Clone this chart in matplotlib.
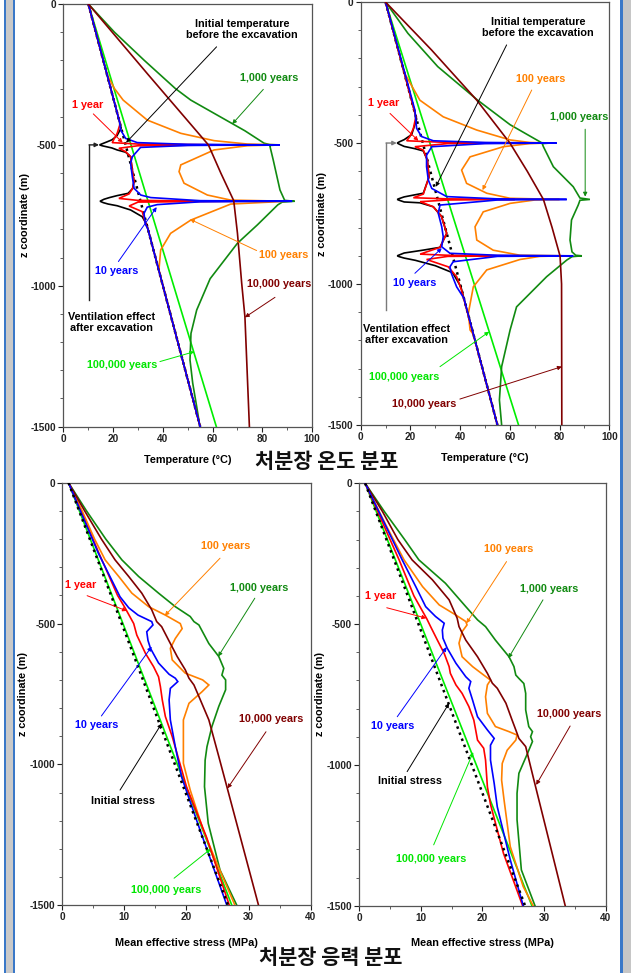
import numpy as np
import matplotlib
matplotlib.use("Agg")
import matplotlib.pyplot as plt
from matplotlib import font_manager
from matplotlib.patches import Rectangle

# ---------- temperature, two disposal levels (-500, -700 m): (T degC, z m) ----------
t2_initial = [(10, 0), (55, -1500)]
t2_vent = [(10, 0), (23.2, -440), (21.5, -468), (19.5, -482), (17.6, -489), (15.6, -496), (14.5, -500),
           (15.5, -503), (17, -506), (19.5, -511), (21.6, -518), (25, -526), (27, -542), (27.6, -585),
           (28.4, -630), (27.8, -655), (26, -672), (21.6, -680), (18.5, -687), (16.3, -693), (14.7, -700),
           (16, -705), (18, -710), (21.6, -716), (27, -731), (31.7, -755), (33.6, -785), (55, -1500)]
t2_1yr = [(10, 0), (22.8, -425), (21.6, -459), (20.3, -480), (19.6, -492), (30, -497), (65, -500), (30, -503),
          (22.3, -512), (25, -524), (27, -542), (27.6, -585), (28.4, -630), (27.8, -655), (26.4, -674),
          (22.3, -690), (30, -697), (70, -700), (30, -703), (26.4, -717), (31.7, -737), (32.6, -767),
          (34, -800), (55, -1500)]
t2_10yr = [(10, 0), (21.3, -376), (22.6, -420), (23, -447), (25, -477), (29.7, -492), (50, -498), (87, -500),
           (50, -502), (31, -509), (27.7, -542), (27, -565), (27.7, -613), (28.4, -654), (31.1, -678),
           (35.1, -687), (55, -698), (92, -700), (55, -702), (37.7, -712), (33.7, -721), (32.4, -743),
           (32.9, -779), (34, -800), (55, -1500)]
t2_100yr = [(10, 0), (17.5, -250), (20.5, -300), (24, -341), (33.7, -412), (47.2, -459), (60.6, -485),
            (74, -497), (86, -500), (74, -503), (60.6, -518), (47.2, -571), (46.5, -595), (48.5, -636),
            (57.9, -678), (67.3, -696), (90, -700), (67.3, -710), (51.2, -767), (43.1, -814), (39.1, -873),
            (38.4, -944), (39.5, -985), (40.6, -1020), (55, -1500)]
t2_1000yr = [(10, 0), (20.5, -100), (32.5, -200), (45, -300), (51.2, -341), (63, -400), (73, -450),
             (80.7, -494), (83, -499), (87, -500), (83, -502), (83.1, -506), (84.4, -554), (87.1, -660),
             (89, -697), (93, -700), (88, -703), (86.2, -713), (78, -784), (70, -849), (59, -975),
             (53.6, -1086), (51.3, -1169), (50.9, -1263), (52, -1346), (53.6, -1429), (54.9, -1500)]
t2_10000yr = [(10, 0), (34, -250), (58.3, -500), (63.3, -600), (68.5, -698), (70, -814), (71.7, -991),
              (73, -1110), (74.8, -1500)]
t2_100000yr = [(10, 0), (61.5, -1500)]

# ---------- temperature, three disposal levels (-500, -700, -900 m) ----------
t3_initial = [(10, 0), (55, -1500)]
t3_vent = [(10, 0), (22.5, -415), (20.5, -470), (17.5, -488), (15.5, -496), (14.7, -500), (15.5, -504),
           (17.5, -512), (21.8, -520), (25.2, -528), (26.8, -560), (27.5, -620), (25.2, -678), (21, -685),
           (17.5, -691), (15.5, -697), (14.7, -700), (15.5, -703), (17.5, -709), (23.9, -712), (29.2, -726),
           (32.5, -760), (34.6, -820), (31.9, -870), (25, -880), (17.5, -890), (15.5, -897), (14.7, -900),
           (15.5, -903), (17.5, -908), (22, -916), (30, -935), (37, -960), (40.3, -1010), (55, -1500)]
t3_1yr = [(10, 0), (22.2, -407), (21.2, -448), (19.8, -477), (18.5, -492), (35, -498), (60, -500), (35, -502),
          (21.8, -513), (25.2, -525), (26.8, -560), (27.5, -620), (25.2, -681), (21.2, -694), (35, -698),
          (62, -700), (35, -702), (23.9, -708), (29.2, -726), (32.5, -760), (34.6, -820), (31.9, -870),
          (23.9, -894), (35, -898), (65, -900), (35, -902), (26.5, -913), (35.2, -939), (38.6, -974),
          (40.5, -1020), (55, -1500)]
t3_10yr = [(10, 0), (21.8, -383), (22.5, -448), (24.5, -477), (29.2, -492), (50, -498), (78.8, -500),
           (50, -502), (28.6, -513), (26.5, -543), (26.5, -584), (27.2, -631), (28.6, -661), (34.6, -690),
           (55, -698), (82.9, -700), (55, -702), (31.9, -720), (31.2, -749), (32.6, -797), (33.2, -832),
           (32.6, -868), (35.9, -891), (55, -898), (85.5, -900), (55, -902), (37.2, -921), (35.9, -939),
           (36.5, -963), (38.6, -1010), (41.5, -1050), (55, -1500)]
t3_100yr = [(10, 0), (17.5, -250), (23.8, -348), (33.2, -407), (46.7, -454), (60.1, -489), (68, -498),
            (75, -500), (68, -502), (57.4, -513), (44, -549), (40.6, -596), (42.6, -643), (50.7, -678),
            (60.1, -696), (80, -700), (70, -702), (60.1, -714), (49.3, -744), (46, -797), (46.7, -844),
            (53.3, -880), (64.1, -898), (82, -900), (72, -902), (64.1, -913), (50.7, -950), (45.3, -1010),
            (43.3, -1104), (44, -1163), (45.4, -1180), (55, -1500)]
t3_1000yr = [(10, 0), (19, -111), (31, -229), (46.9, -347), (60.1, -435), (70, -485), (72.8, -499),
             (76.5, -500), (73, -502), (73.5, -513), (77.5, -584), (85.5, -655), (88.2, -695), (92.2, -700),
             (88.2, -703), (87.5, -720), (84.8, -773), (84.2, -844), (85, -886), (86.5, -898), (89, -900),
             (85, -903), (82.9, -915), (74.8, -974), (62.7, -1081), (60.1, -1163), (56.7, -1293),
             (55.8, -1411), (56.7, -1500)]
t3_10000yr = [(10, 0), (28.5, -170), (46.7, -348), (60.1, -501), (67, -600), (73.5, -700), (77, -800),
              (80.2, -901), (80.8, -1000), (80.9, -1500)]
t3_100000yr = [(10, 0), (63.5, -1500)]

# ---------- mean effective stress, two levels: (MPa, z m) ----------
s2_initial = [(1.0, 0), (26.7, -1500)]
s2_1yr = [(1.0, 0), (5.9, -250), (8.9, -400), (10.1, -444), (11.5, -500), (12.0, -541), (13.4, -606),
          (14.7, -653), (15.5, -689), (15.8, -724), (16.1, -771), (16.6, -830), (17.7, -901), (20.0, -1079),
          (23.2, -1257), (26.9, -1500)]
s2_10yr = [(1.0, 0), (5.8, -250), (9.3, -405), (10.7, -444), (12.2, -470), (14.4, -493), (14.6, -505),
           (13.6, -529), (13.8, -560), (14.2, -588), (15.5, -640), (17.2, -680), (18.2, -694), (18.6, -706),
           (17.4, -730), (17.2, -771), (17.4, -842), (18.2, -937), (19.2, -1044), (22.2, -1234), (26.5, -1500)]
s2_100yr = [(1.0, 0), (3.2, -100), (5.2, -200), (6.9, -274), (9.1, -333), (11.2, -392), (13.9, -440),
            (16.6, -470), (19.0, -500), (19.3, -518), (18.2, -553), (17.4, -588), (17.7, -629), (19.8, -676),
            (22.6, -700), (23.6, -718), (22.5, -742), (20.4, -783), (19.5, -842), (19.5, -913), (19.5, -996),
            (20.6, -1091), (22.7, -1233), (24.9, -1351), (27.8, -1500)]
s2_1000yr = [(1.0, 0), (3.9, -100), (7.0, -200), (9.6, -274), (12.3, -333), (15.5, -392), (18.2, -440),
             (20.6, -475), (21.2, -493), (22.0, -505), (23.6, -571), (25.2, -617), (26.0, -659), (25.7, -683),
             (26.3, -700), (26.3, -735), (25.2, -794), (24.1, -865), (23.3, -937), (23.0, -985), (22.9, -1079),
             (23.5, -1209), (25.4, -1375), (28.1, -1500)]
s2_10000yr = [(1.0, 0), (3.6, -100), (6.3, -200), (8.5, -274), (10.7, -333), (12.8, -392), (14.4, -451),
              (15.2, -493), (16.0, -511), (17.1, -558), (18.5, -617), (19.8, -664), (20.4, -694), (21.2, -718),
              (22.0, -759), (23.6, -842), (25.2, -972), (26.5, -1079), (31.6, -1500)]
s2_100000yr = [(1.0, 0), (27.3, -1500)]

# ---------- mean effective stress, three levels ----------
s3_initial = [(1.0, 0), (26.9, -1500)]
s3_1yr = [(1.0, 0), (6.5, -272), (8.9, -400), (11.0, -482), (11.6, -509), (12.7, -557), (13.8, -604),
          (14.6, -651), (14.8, -675), (15.7, -716), (16.7, -746), (17.8, -793), (18.6, -841), (18.9, -876),
          (19.2, -912), (20.2, -941), (20.5, -983), (20.8, -1078), (21.3, -1140), (23.4, -1314), (26.5, -1500)]
s3_10yr = [(1.0, 0), (7.0, -272), (9.2, -367), (10.8, -438), (12.4, -473), (13.8, -497), (13.5, -521),
           (13.6, -550), (14.3, -586), (15.7, -639), (17.3, -687), (18.1, -704), (17.8, -728), (18.4, -770),
           (19.2, -829), (20.8, -876), (21.9, -906), (21.3, -930), (21.3, -983), (21.9, -1066), (22.4, -1149),
           (24.5, -1337), (26.6, -1500)]
s3_100yr = [(1.0, 0), (4.4, -150), (7.3, -272), (10.3, -367), (13.0, -432), (15.7, -468), (17.3, -491),
            (17.5, -503), (16.7, -527), (16.2, -568), (16.7, -616), (18.4, -651), (20.2, -681), (21.3, -699),
            (20.8, -716), (20.5, -758), (20.8, -817), (22.1, -864), (24.3, -882), (25.6, -894), (25.4, -912),
            (24.0, -948), (23.2, -995), (23.1, -1054), (23.5, -1125), (24.5, -1290), (26.6, -1432), (28.2, -1500)]
s3_1000yr = [(1.0, 0), (4.1, -100), (7.4, -200), (9.7, -272), (14.0, -355), (17.3, -438), (19.2, -485),
             (20.5, -509), (22.1, -557), (24.3, -616), (25.1, -651), (25.4, -681), (25.9, -693), (26.7, -711),
             (27.0, -746), (27.0, -805), (27.5, -864), (28.1, -882), (27.8, -900), (28.1, -917), (27.3, -959),
             (25.9, -1030), (25.6, -1101), (25.6, -1195), (26.3, -1373), (28.5, -1500)]
s3_10000yr = [(1.0, 0), (3.8, -100), (6.3, -200), (8.6, -272), (11.9, -343), (14.6, -414), (15.9, -479),
              (16.2, -509), (17.3, -557), (19.2, -616), (20.8, -675), (21.6, -710), (22.4, -728), (23.8, -781),
              (24.8, -841), (25.4, -876), (25.9, -906), (27.0, -935), (28.2, -1042), (33.4, -1500)]
s3_100000yr = [(1.0, 0), (28.0, -1500)]


def have_font(name):
    try:
        font_manager.findfont(font_manager.FontProperties(family=name), fallback_to_default=False)
        return True
    except ValueError:
        return False


if have_font("Liberation Sans Narrow"):
    NARROW, NOTE_SIZE = "Liberation Sans Narrow", 8.8
else:
    NARROW, NOTE_SIZE = "Liberation Sans", 7.8

plt.rcParams["font.family"] = ["Liberation Sans", "DejaVu Sans"]
plt.rcParams["font.weight"] = "bold"
plt.rcParams["axes.unicode_minus"] = False

RED, BLUE, ORANGE = "#ff0000", "#0000ff", "#ff8000"
GREEN, DRED, LIME = "#118a11", "#800000", "#00e600"


def curve(ax, pts, color, z, lw=1.2, ls="-"):
    x, y = np.array(pts, dtype=float).T
    ax.plot(x, y, color=color, lw=lw, ls=ls, zorder=z, solid_joinstyle="miter")


def note(ax, text, color, pos, start=None, tip=None):
    ax.text(pos[0], pos[1], text, color=color, ha="center", va="center", family=NARROW,
            fontsize=NOTE_SIZE, fontweight="bold", linespacing=1.15, zorder=30)
    if tip is not None:
        ax.annotate("", xy=tip, xytext=start, zorder=30,
                    arrowprops=dict(arrowstyle="-|>", color=color, lw=0.7, mutation_scale=6,
                                    shrinkA=0, shrinkB=0))


def frame(ax, xmax, xmajor, xminor, xlabel, xpad):
    ax.set_xlim(0, xmax)
    ax.set_ylim(-1500, 0)
    ax.set_xticks(np.arange(0, xmax + 1, xmajor))
    ax.set_xticks(np.arange(0, xmax + 1, xminor), minor=True)
    ax.set_yticks([-1500, -1000, -500, 0])
    ax.set_yticks(np.arange(-1500, 1, 100), minor=True)
    ax.tick_params(which="major", direction="out", length=3.5, width=0.8, labelsize=7.2, pad=1.5,
                   colors="#222222")
    ax.tick_params(which="minor", direction="out", length=2, width=0.6, colors="#444444")
    for s in ax.spines.values():
        s.set_color("#555555")
        s.set_linewidth(0.9)
    ax.set_xlabel(xlabel, family=NARROW, fontsize=NOTE_SIZE, fontweight="bold", labelpad=xpad)
    ax.set_ylabel("z coordinate (m)", family=NARROW, fontsize=NOTE_SIZE, fontweight="bold", labelpad=1)


def vent_marker(ax, x, ybot, tip, color):
    ax.plot([x, x], [ybot, -500], color=color, lw=1.0, zorder=25)
    ax.annotate("", xy=(tip, -500), xytext=(x, -500), zorder=25,
                arrowprops=dict(arrowstyle="-|>", color=color, lw=1.0, mutation_scale=6,
                                shrinkA=0, shrinkB=0))


fig = plt.figure(figsize=(6.31, 9.73), dpi=100)

# window-like border on both sides
W, H = 631.0, 973.0
for x0, x1, c in [(4, 6, "#3a78c8"), (6, 13.3, "#c9c9c9"), (13.3, 15, "#3a78c8"),
                  (620, 622.5, "#3a78c8"), (622.5, 631, "#c6c6c6")]:
    fig.patches.append(Rectangle((x0 / W, 0), (x1 - x0) / W, 1, transform=fig.transFigure,
                                 facecolor=c, edgecolor="none", zorder=0))

ax_tl = fig.add_axes([0.1006, 0.5615, 0.3939, 0.4344])
ax_tr = fig.add_axes([0.5716, 0.5632, 0.3940, 0.4347])
ax_bl = fig.add_axes([0.0987, 0.0696, 0.3937, 0.4343])
ax_br = fig.add_axes([0.5689, 0.0692, 0.3914, 0.4341])

# ---- temperature panels
for ax, d in [(ax_tl, dict(init=t2_initial, vent=t2_vent, y1=t2_1yr, y10=t2_10yr, y100=t2_100yr,
                           y1k=t2_1000yr, y10k=t2_10000yr, y100k=t2_100000yr)),
              (ax_tr, dict(init=t3_initial, vent=t3_vent, y1=t3_1yr, y10=t3_10yr, y100=t3_100yr,
                           y1k=t3_1000yr, y10k=t3_10000yr, y100k=t3_100000yr))]:
    curve(ax, d["init"], "black", 2, lw=1.8, ls=(0, (1, 1.6)))
    curve(ax, d["y100k"], "#00ee00", 3)
    curve(ax, d["y1k"], GREEN, 5)
    curve(ax, d["y100"], ORANGE, 6)
    curve(ax, d["vent"], "black", 7)
    curve(ax, d["y1"], RED, 8)
    curve(ax, d["y10"], BLUE, 9)
    curve(ax, d["y10k"], DRED, 10)
    frame(ax, 100, 20, 10, "Temperature (°C)", 8)

note(ax_tl, "Initial temperature\nbefore the excavation", "black", (71.9, -90), (61.6, -152), (25.2, -492))
note(ax_tl, "1,000 years", GREEN, (82.7, -263), (80.4, -303), (67.9, -426))
note(ax_tl, "1 year", RED, (9.6, -359), (12, -390), (23.8, -492))
note(ax_tl, "100 years", ORANGE, (88.7, -891), (77.7, -875), (50.9, -764))
note(ax_tl, "10 years", BLUE, (21.6, -947), (22.1, -914), (37.5, -721))
note(ax_tl, "10,000 years", DRED, (86.7, -994), (85.1, -1041), (73, -1112))
note(ax_tl, "Ventilation effect\nafter excavation", "black", (19.4, -1130))
note(ax_tl, "100,000 years", LIME, (23.7, -1281), (38.8, -1269), (52.6, -1234))
vent_marker(ax_tl, 10.3, -1050, 14.3, "#222222")

note(ax_tr, "Initial temperature\nbefore the excavation", "black", (71.3, -89), (58.7, -152), (30.2, -655))
note(ax_tr, "100 years", ORANGE, (72.4, -273), (68.8, -312), (49, -667))
note(ax_tr, "1,000 years", GREEN, (87.9, -407), (90.3, -451), (90.3, -690))
note(ax_tr, "1 year", RED, (9.4, -357), (11.8, -395), (23.2, -492))
note(ax_tr, "10 years", BLUE, (21.6, -998), (21.8, -962), (32.6, -873))
note(ax_tr, "Ventilation effect\nafter excavation", "black", (18.5, -1178))
note(ax_tr, "100,000 years", LIME, (17.5, -1329), (31.9, -1293), (51.7, -1169))
note(ax_tr, "10,000 years", DRED, (25.6, -1426), (39.9, -1408), (80.9, -1293))
vent_marker(ax_tr, 10.2, -1092, 14.5, "#7a7a7a")

# ---- stress panels
for ax, d in [(ax_bl, dict(init=s2_initial, y1=s2_1yr, y10=s2_10yr, y100=s2_100yr, y1k=s2_1000yr,
                           y10k=s2_10000yr, y100k=s2_100000yr)),
              (ax_br, dict(init=s3_initial, y1=s3_1yr, y10=s3_10yr, y100=s3_100yr, y1k=s3_1000yr,
                           y10k=s3_10000yr, y100k=s3_100000yr))]:
    curve(ax, d["y100k"], "#00ee00", 3)
    curve(ax, d["y1k"], GREEN, 5)
    curve(ax, d["y100"], ORANGE, 6)
    curve(ax, d["y10k"], DRED, 7)
    curve(ax, d["y1"], RED, 8)
    curve(ax, d["y10"], BLUE, 9)
    curve(ax, d["init"], "black", 11, lw=1.8, ls=(0, (1, 1.6)))
    frame(ax, 40, 10, 5, "Mean effective stress (MPa)", 11)

note(ax_bl, "100 years", ORANGE, (26.3, -225), (25.4, -268), (16.5, -472))
note(ax_bl, "1,000 years", GREEN, (31.7, -375), (31.0, -410), (25.1, -617))
note(ax_bl, "1 year", RED, (3.0, -363), (4.0, -401), (10.4, -455))
note(ax_bl, "10 years", BLUE, (5.5, -860), (6.3, -828), (14.4, -582))
note(ax_bl, "Initial stress", "black", (9.7, -1130), (9.3, -1091), (16.0, -855))
note(ax_bl, "10,000 years", DRED, (33.6, -840), (32.8, -884), (26.6, -1085))
note(ax_bl, "100,000 years", LIME, (16.7, -1446), (18.0, -1404), (23.9, -1300))

note(ax_br, "100 years", ORANGE, (24.2, -233), (23.9, -278), (17.4, -497))
note(ax_br, "1,000 years", GREEN, (30.8, -375), (29.8, -414), (24.2, -621))
note(ax_br, "1 year", RED, (3.5, -400), (4.5, -442), (10.9, -479))
note(ax_br, "10 years", BLUE, (5.5, -861), (6.2, -829), (14.2, -582))
note(ax_br, "Initial stress", "black", (8.3, -1056), (7.8, -1024), (14.6, -781))
note(ax_br, "10,000 years", DRED, (34.1, -819), (34.2, -862), (28.7, -1071))
note(ax_br, "100,000 years", LIME, (11.7, -1334), (12.1, -1284), (18.5, -955))

# section captions
kr = dict(family=["Noto Sans CJK KR", "DejaVu Sans"], fontsize=15, fontweight="bold",
          ha="center", va="center", color="#111111")
fig.text(327 / W, 1 - 461 / H, "처분장 온도 분포", **kr)
fig.text(331 / W, 1 - 958 / H, "처분장 응력 분포", **kr)

fig.savefig("out.png", dpi=100)
